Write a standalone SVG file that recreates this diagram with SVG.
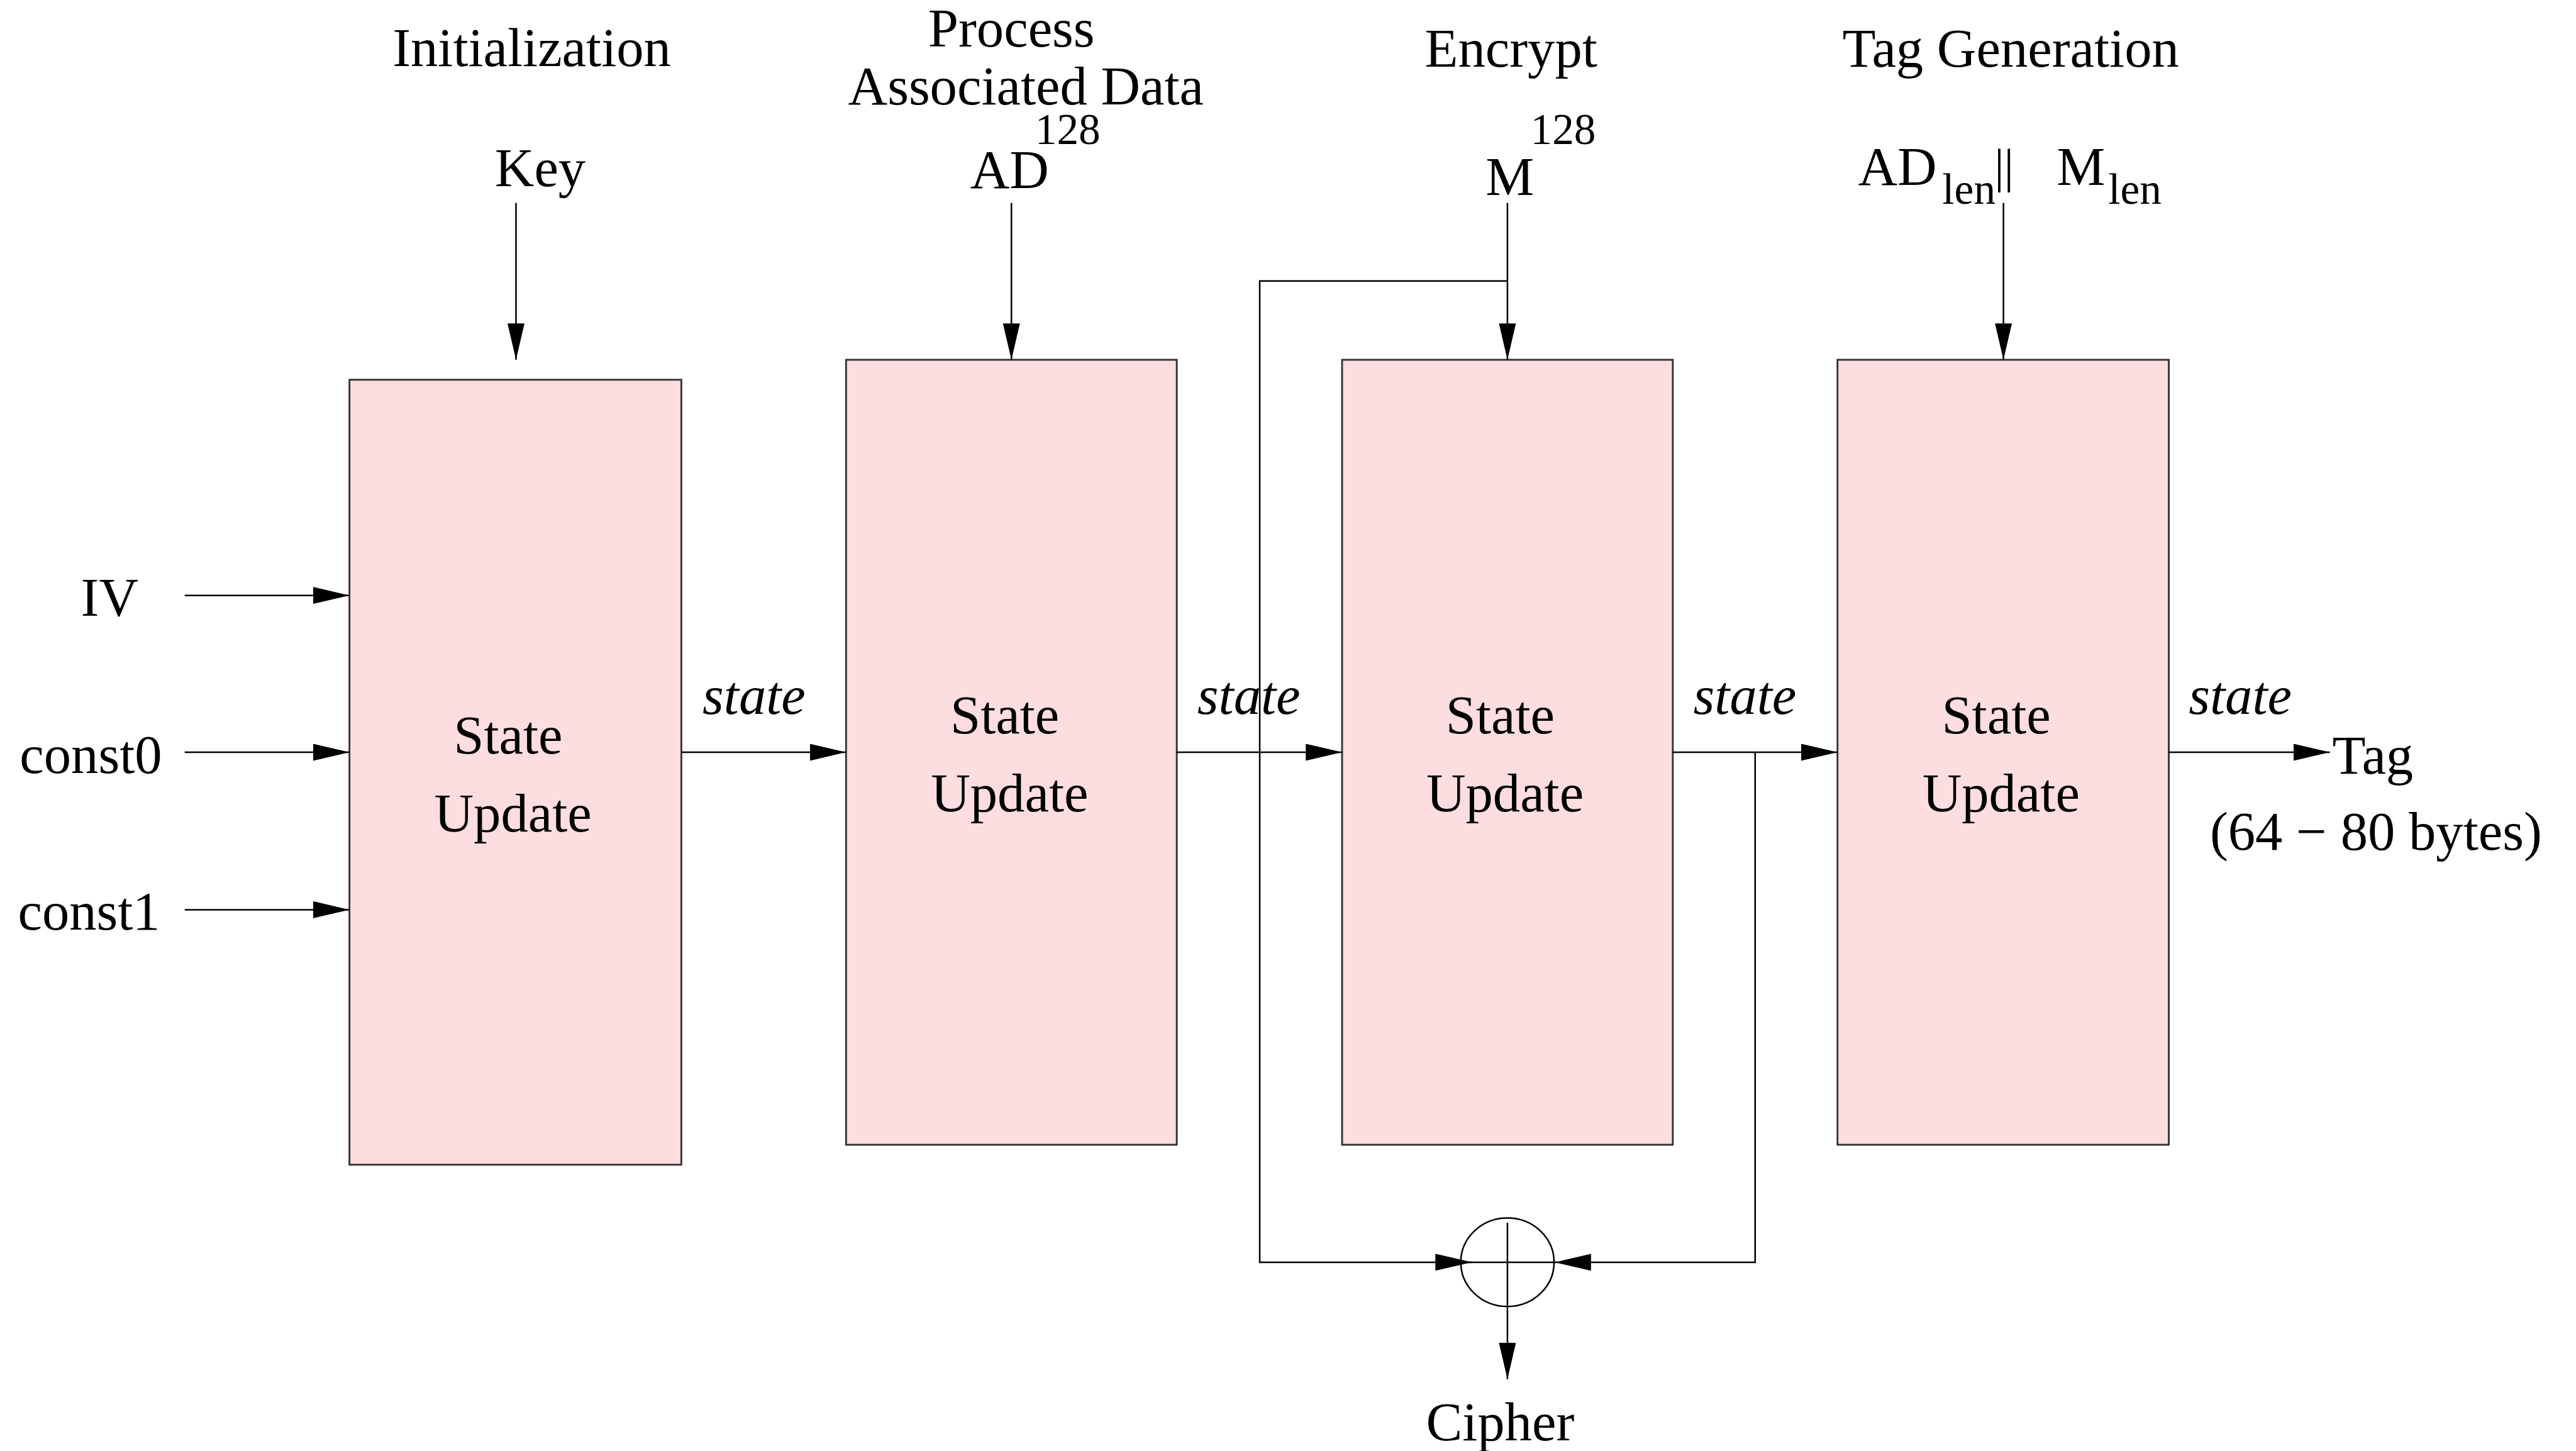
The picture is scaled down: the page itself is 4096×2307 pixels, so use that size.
<svg xmlns="http://www.w3.org/2000/svg" width="4096" height="2307" viewBox="0 0 4096 2307">
<style>
text{font-family:"Liberation Serif","Times New Roman",serif;fill:#000;font-size:90px}
.c{text-anchor:middle}
.sm{font-size:72px}
.it{font-style:italic}
.box{fill:#fddde0;stroke:#333;stroke-width:3}
.ln{fill:none;stroke:#000;stroke-width:2.6}
.arr{marker-end:url(#ah)}
</style>
<defs>
<marker id="ah" markerUnits="userSpaceOnUse" viewBox="0 0 60 28" markerWidth="60" markerHeight="28" refX="60" refY="14" orient="auto">
<path d="M0,0 L60,14 L0,28 z" fill="#000"/>
</marker>
</defs>
<rect width="4096" height="2307" fill="#fff"/>
<g transform="scale(0.963)">
<g id="labels-top">
<text class="c" x="878" y="109">Initialization</text>
<text class="c" x="1670" y="77">Process</text>
<text class="c" x="1694" y="172">Associated Data</text>
<text class="c" x="2495" y="110">Encrypt</text>
<text class="c" x="3320" y="110">Tag Generation</text>
</g>
<g id="in-key"><text class="c" x="892" y="307">Key</text></g>
<g id="in-ad"><text class="c" x="1667" y="310">AD</text><text class="c sm" x="1763" y="238">128</text></g>
<g id="in-m"><text class="c" x="2493" y="322">M</text><text class="c sm" x="2581" y="238">128</text></g>
<g id="in-len">
<text class="c" x="3133" y="305">AD</text>
<text class="c sm" x="3251" y="336">len</text>
<text class="c" x="3309" y="301" style="font-size:80px">||</text>
<text class="c" x="3436" y="305">M</text>
<text class="c sm" x="3525" y="336">len</text>
</g>
<g id="in-iv"><text class="c" x="181" y="1017">IV</text></g>
<g id="in-const0"><text class="c" x="150" y="1276">const0</text></g>
<g id="in-const1"><text class="c" x="147" y="1535">const1</text></g>
<g id="su1">
<rect class="box" x="577" y="627" width="548" height="1296"/>
<text class="c" x="839" y="1244">State</text>
<text class="c" x="847" y="1373">Update</text>
</g>
<g id="su2">
<rect class="box" x="1397" y="594" width="546" height="1296"/>
<text class="c" x="1659" y="1211">State</text>
<text class="c" x="1667" y="1340">Update</text>
</g>
<g id="su3">
<rect class="box" x="2216" y="594" width="546" height="1296"/>
<text class="c" x="2477" y="1211">State</text>
<text class="c" x="2485" y="1340">Update</text>
</g>
<g id="su4">
<rect class="box" x="3034" y="594" width="547" height="1296"/>
<text class="c" x="3296" y="1211">State</text>
<text class="c" x="3304" y="1340">Update</text>
</g>
<g id="xor">
<ellipse cx="2489" cy="2084" rx="77" ry="73" fill="none" stroke="#000" stroke-width="2.6"/>
<path class="ln" d="M2489,2019 V2157 M2412,2084 H2566"/>
</g>
<g id="out-tag">
<text x="3851" y="1277">Tag</text>
<text class="c" x="3923" y="1403">(64 − 80 bytes)</text>
</g>
<g id="out-cipher"><text class="c" x="2477" y="2378">Cipher</text></g>
<g id="connectors">
<path class="ln arr" d="M852,335 V594"/>
<path class="ln arr" d="M1670,335 V594"/>
<path class="ln arr" d="M2489,335 V594"/>
<path class="ln arr" d="M3308,335 V594"/>
<path class="ln arr" d="M305,983 H577"/>
<path class="ln arr" d="M305,1242 H577"/>
<path class="ln arr" d="M305,1502 H577"/>
<path class="ln arr" d="M1125,1242 H1397"/>
<path class="ln arr" d="M1943,1242 H2216"/>
<path class="ln arr" d="M2762,1242 H3034"/>
<path class="ln arr" d="M3581,1242 H3847"/>
<path class="ln arr" d="M2489,464 H2080 V2084 H2430"/>
<path class="ln arr" d="M2898,1242 V2084 H2567"/>
<path class="ln arr" d="M2489,2157 V2277"/>
<text class="c it" x="1245" y="1179">state</text>
<text class="c it" x="2062" y="1179">state</text>
<text class="c it" x="2881" y="1179">state</text>
<text class="c it" x="3699" y="1179">state</text>
</g>
</g>
</svg>
